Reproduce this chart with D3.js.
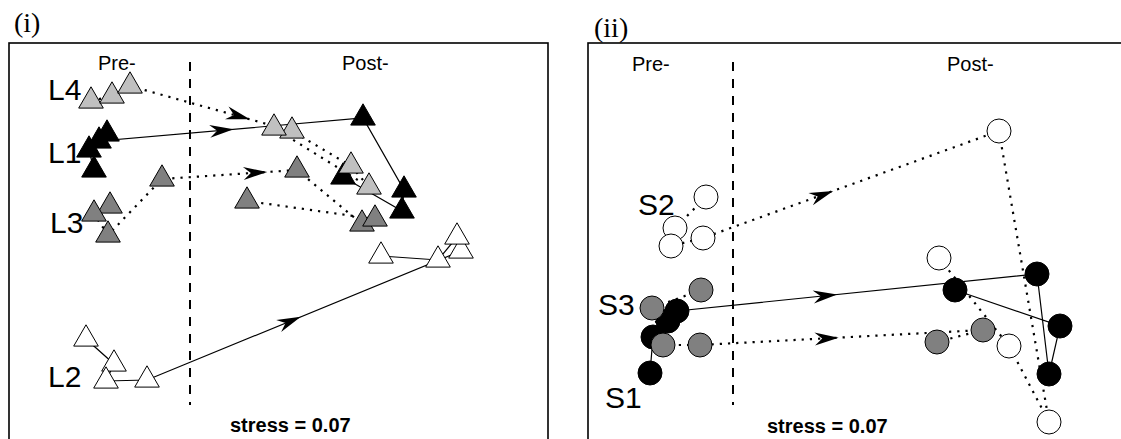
<!DOCTYPE html>
<html>
<head>
<meta charset="utf-8">
<script src="https://cdn.jsdelivr.net/npm/d3@7"></script>
<style>
  html, body { margin: 0; padding: 0; background: #fff; }
  svg { display: block; }
  text { font-family: "Liberation Sans", Arial, Helvetica, sans-serif; fill: #000; }
</style>
</head>
<body>
<svg id="chart" width="1121" height="439"></svg>
<script>
// NMDS ordination scores (axis 1, axis 2) for each group, before and after.
// Points of each group are joined in sampling order; the last "pre" sample
// is linked to the first "post" sample by an arrowed segment.

// ---- Panel (i): locations ----
const L1_pre  = [[-1.85, 0.73], [-1.90, 0.93], [-1.72, 1.09], [-1.80, 1.02]];
const L1_post = [[0.84, 1.25], [1.25, 0.53], [1.23, 0.32], [0.64, 0.66]];
const L2_pre  = [[-1.93, -0.96], [-1.65, -1.21], [-1.73, -1.38], [-1.32, -1.37]];
const L2_post = [[1.82, -0.08], [1.78, 0.06], [1.59, -0.17], [1.02, -0.13]];
const L3_pre  = [[-1.69, 0.37], [-1.85, 0.29], [-1.71, 0.08], [-1.17, 0.64]];
const L3_post = [[0.18, 0.73], [0.83, 0.19], [0.96, 0.24], [-0.32, 0.42]];
const L4_pre  = [[-1.88, 1.42], [-1.67, 1.47], [-1.49, 1.57]];
const L4_post = [[0.13, 1.12], [0.72, 0.77], [0.90, 0.56], [-0.05, 1.15]];

// ---- Panel (ii): sites ----
const S1_pre  = [[-2.08, -1.30], [-2.05, -0.94], [-1.90, -0.78], [-1.81, -0.68]];
const S1_post = [[1.79, -0.31], [1.91, -1.31], [2.02, -0.83], [0.97, -0.47]];
const S2_pre  = [[-1.52, 0.46], [-1.83, 0.15], [-1.87, -0.03], [-1.55, 0.05]];
const S2_post = [[1.41, 1.12], [1.91, -1.79], [1.51, -1.03], [0.81, -0.15]];
const S3_pre  = [[-1.57, -0.47], [-2.06, -0.65], [-1.95, -1.02], [-1.58, -1.02]];
const S3_post = [[1.25, -0.87], [0.79, -0.99]];

// Group names and where their labels sit (ordination units)
const groupNamesI  = ["L1", "L2", "L3", "L4"];
const groupNamesII = ["S1", "S2", "S3"];
const labelPosI  = [[-2.31, 0.80], [-2.31, -1.44], [-2.29, 0.10], [-2.31, 1.43]];
const labelPosII = [[-2.53, -1.65], [-2.20, 0.28], [-2.60, -0.72]];

// Panel annotations
const panelTitles  = ["(i)", "(ii)"];
const periodLabels = ["Pre-", "Post-"];
const stressValues = [0.07, 0.07];
const dividerX     = [-0.89, -1.25];   // boundary between pre and post samples
const dividerY     = [1.81, -1.62];

// ---- Styles ----
const fills = { L1: "#000", L2: "#fff", L3: "#808080", L4: "#c0c0c0",
                S1: "#000", S2: "#fff", S3: "#808080" };
const dotted = { L1: false, L2: false, L3: true, L4: true,
                 S1: false, S2: true, S3: true };
// where along the pre→post segment the arrow tip sits
const arrowAt = { L1: 0.51, L2: 0.49, L3: 0.78, L4: 0.74,
                  S1: 0.445, S2: 0.44, S3: 0.49 };

const panels = [
  {
    shape: "triangle",
    groups: groupNamesI, labels: labelPosI,
    data: { L1: [L1_pre, L1_post], L2: [L2_pre, L2_post], L3: [L3_pre, L3_post], L4: [L4_pre, L4_post] },
    frame: { left: 9, right: 548, top: 43, bottom: 470 },
    xDomain: [-2.70, 2.69], yDomain: [2.00, -2.27],
    title: { x: 14, y: 32, size: 28 },
    pre: { x: 98, y: 70 }, post: { x: 342, y: 70 },
    stress: { x: 230, y: 432 }
  },
  {
    shape: "circle",
    groups: groupNamesII, labels: labelPosII,
    data: { S1: [S1_pre, S1_post], S2: [S2_pre, S2_post], S3: [S3_pre, S3_post] },
    frame: { left: 588, right: 1128, top: 43, bottom: 470 },
    xDomain: [-2.70, 2.70], yDomain: [2.00, -2.27],
    title: { x: 594, y: 37, size: 28 },
    pre: { x: 632, y: 71 }, post: { x: 947, y: 71 },
    stress: { x: 767, y: 433 }
  }
];

const svg = d3.select("#chart");
const triangle = d3.symbol().type(d3.symbolTriangle).size(262);
const arrowPath = "M0,0 L-24,-6.5 L-16.5,0 L-24,6.5 Z";

panels.forEach((p, i) => {
  const x = d3.scaleLinear().domain(p.xDomain).range([p.frame.left, p.frame.right]);
  const y = d3.scaleLinear().domain(p.yDomain).range([p.frame.top, p.frame.bottom]);
  const g = svg.append("g");

  // panel frame
  g.append("rect")
    .attr("x", p.frame.left).attr("y", p.frame.top)
    .attr("width", p.frame.right - p.frame.left)
    .attr("height", p.frame.bottom - p.frame.top)
    .attr("fill", "none").attr("stroke", "#000").attr("stroke-width", 1.6);

  // panel title
  g.append("text")
    .attr("x", p.title.x).attr("y", p.title.y)
    .style("font-family", "'Liberation Serif', 'Times New Roman', serif")
    .style("font-size", p.title.size + "px")
    .text(panelTitles[i]);

  // pre / post headings
  g.append("text").attr("x", p.pre.x).attr("y", p.pre.y)
    .style("font-size", "20px").text(periodLabels[0]);
  g.append("text").attr("x", p.post.x).attr("y", p.post.y)
    .style("font-size", "20px").text(periodLabels[1]);

  // dashed divider
  g.append("line")
    .attr("x1", x(dividerX[i])).attr("x2", x(dividerX[i]))
    .attr("y1", y(dividerY[0])).attr("y2", y(dividerY[1]))
    .attr("stroke", "#000").attr("stroke-width", 2)
    .attr("stroke-dasharray", "9,8");

  // stress value
  g.append("text").attr("x", p.stress.x).attr("y", p.stress.y)
    .style("font-size", "20px").style("font-weight", "bold")
    .text(`stress = ${d3.format(".2f")(stressValues[i])}`);

  const line = d3.line().x(d => x(d[0])).y(d => y(d[1]));

  // trajectories
  p.groups.forEach(name => {
    const [pre, post] = p.data[name];
    g.append("path")
      .attr("d", line(pre.concat(post)))
      .attr("fill", "none").attr("stroke", "#000")
      .attr("stroke-width", dotted[name] ? 2.2 : 1.2)
      .attr("stroke-dasharray", dotted[name] ? "2.2,6" : null);
  });

  // arrowheads on the pre → post link
  p.groups.forEach(name => {
    const [pre, post] = p.data[name];
    const a = pre[pre.length - 1], b = post[0];
    const x0 = x(a[0]), y0 = y(a[1]), x1 = x(b[0]), y1 = y(b[1]);
    const t = arrowAt[name];
    const tx = x0 + (x1 - x0) * t, ty = y0 + (y1 - y0) * t;
    const ang = Math.atan2(y1 - y0, x1 - x0) * 180 / Math.PI;
    g.append("path")
      .attr("d", arrowPath)
      .attr("transform", `translate(${tx},${ty}) rotate(${ang})`)
      .attr("fill", "#000");
  });

  // sample markers
  p.groups.forEach(name => {
    const [pre, post] = p.data[name];
    const pts = pre.concat(post);
    if (p.shape === "triangle") {
      g.selectAll(null).data(pts).join("path")
        .attr("d", triangle)
        .attr("transform", d => `translate(${x(d[0])},${y(d[1])})`)
        .attr("fill", fills[name]).attr("stroke", "#000").attr("stroke-width", 1);
    } else {
      g.selectAll(null).data(pts).join("circle")
        .attr("cx", d => x(d[0])).attr("cy", d => y(d[1])).attr("r", 12)
        .attr("fill", fills[name]).attr("stroke", "#000").attr("stroke-width", 1);
    }
  });

  // group labels
  p.groups.forEach((name, k) => {
    g.append("text")
      .attr("x", x(p.labels[k][0])).attr("y", y(p.labels[k][1]))
      .style("font-size", "30px")
      .text(name);
  });
});
</script>
</body>
</html>
